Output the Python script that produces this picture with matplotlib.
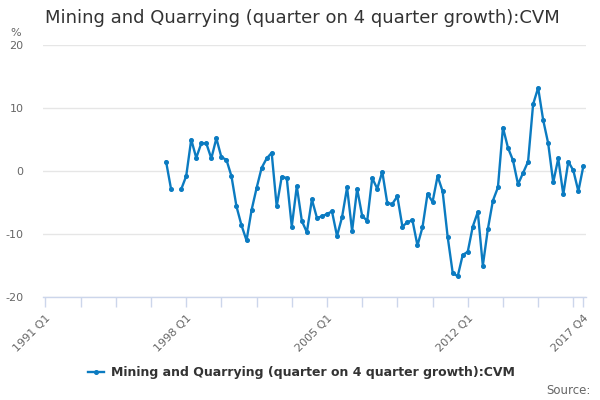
import matplotlib
matplotlib.use("Agg")
import matplotlib.pyplot as plt
import numpy as np

title = "Mining and Quarrying (quarter on 4 quarter growth):CVM"
series_name = "Mining and Quarrying (quarter on 4 quarter growth):CVM"

years = list(range(1991, 2018))
quarters = [f"{y} Q{q}" for y in years for q in range(1, 5)]

start_quarter = "1997 Q1"
values = [
    1.5, -2.9, np.nan, -2.9,          # 1997
    -0.8, 5.0, 2.1, 4.4,              # 1998
    4.4, 2.0, 5.2, 2.2,               # 1999
    1.8, -0.8, -5.6, -8.6,            # 2000
    -11.0, -6.2, -2.7, 0.5,           # 2001
    2.0, 2.9, -5.6, -0.9,             # 2002
    -1.1, -8.8, -2.4, -7.9,           # 2003
    -9.7, -4.5, -7.4, -7.2,           # 2004
    -6.8, -6.4, -10.3, -7.3,          # 2005
    -2.6, -9.5, -2.8, -7.1,           # 2006
    -7.9, -1.1, -2.8, -0.1,           # 2007
    -5.1, -5.2, -4.0, -8.8,           # 2008
    -8.1, -7.8, -11.8, -8.9,          # 2009
    -3.6, -4.9, -0.8, -3.2,           # 2010
    -10.4, -16.1, -16.7, -13.3,       # 2011
    -12.8, -8.8, -6.5, -15.0,         # 2012
    -9.2, -4.7, -2.6, 6.9,            # 2013
    3.7, 1.7, -2.1, -0.3,             # 2014
    1.5, 10.6, 13.2, 8.1,             # 2015
    4.4, -1.8, 2.0, -3.7,             # 2016
    1.5, 0.1, -3.2, 0.8,              # 2017
]

tick_labels = ["1991 Q1", "1998 Q1", "2005 Q1", "2012 Q1", "2017 Q4"]
y_ticks = [-20, -10, 0, 10, 20]

line_color = "#0b7bc1"
text_color = "#333333"
label_color = "#666666"
axis_color = "#ccd6eb"
grid_color = "#e6e6e6"

fig = plt.figure(figsize=(6, 4), dpi=100)
ax = fig.add_axes([0.0715, 0.257, 0.905, 0.6306])

s0 = quarters.index(start_quarter)
x = np.arange(s0, s0 + len(values))
ax.plot(x, values, color=line_color, lw=1.7, marker="o", ms=2.6,
        label=series_name, solid_joinstyle="round")

ax.set_xlim(-0.5, len(quarters) - 0.5)
ax.set_ylim(-20, 20)
ax.set_yticks(y_ticks)
ax.set_yticklabels([str(v) for v in y_ticks])
ax.grid(axis="y", color=grid_color, lw=1)
ax.set_axisbelow(True)

major_pos = [quarters.index(t) for t in tick_labels]
minor_pos = [i for i in range(0, len(quarters), 7)] + [len(quarters) - 1]
ax.set_xticks(minor_pos, minor=True)
ax.set_xticks(major_pos)
ax.set_xticklabels(tick_labels, rotation=45, ha="right", va="top",
                   rotation_mode="anchor", color=label_color, fontsize=8)
ax.tick_params(axis="x", which="both", length=7.5, width=1, color=axis_color,
               direction="out", pad=4)
ax.tick_params(axis="y", length=0, labelsize=8, labelcolor=label_color, pad=14)

for side in ["top", "right", "left"]:
    ax.spines[side].set_visible(False)
ax.spines["bottom"].set_color(axis_color)
ax.spines["bottom"].set_linewidth(1)

fig.text(0.075, 0.955, title, fontsize=13, color=text_color, ha="left", va="center")
fig.text(0.018, 0.918, "%", fontsize=8, color=label_color, ha="left", va="center")
fig.text(0.985, 0.025, "Source:", fontsize=8.5, color=label_color, ha="right", va="center")

leg = fig.legend(loc="center", bbox_to_anchor=(0.502, 0.068), frameon=False,
                 prop={"weight": "bold", "size": 9}, handlelength=1.3,
                 handletextpad=0.5, borderaxespad=0)
for t in leg.get_texts():
    t.set_color(text_color)

fig.savefig("out.png", dpi=100)
